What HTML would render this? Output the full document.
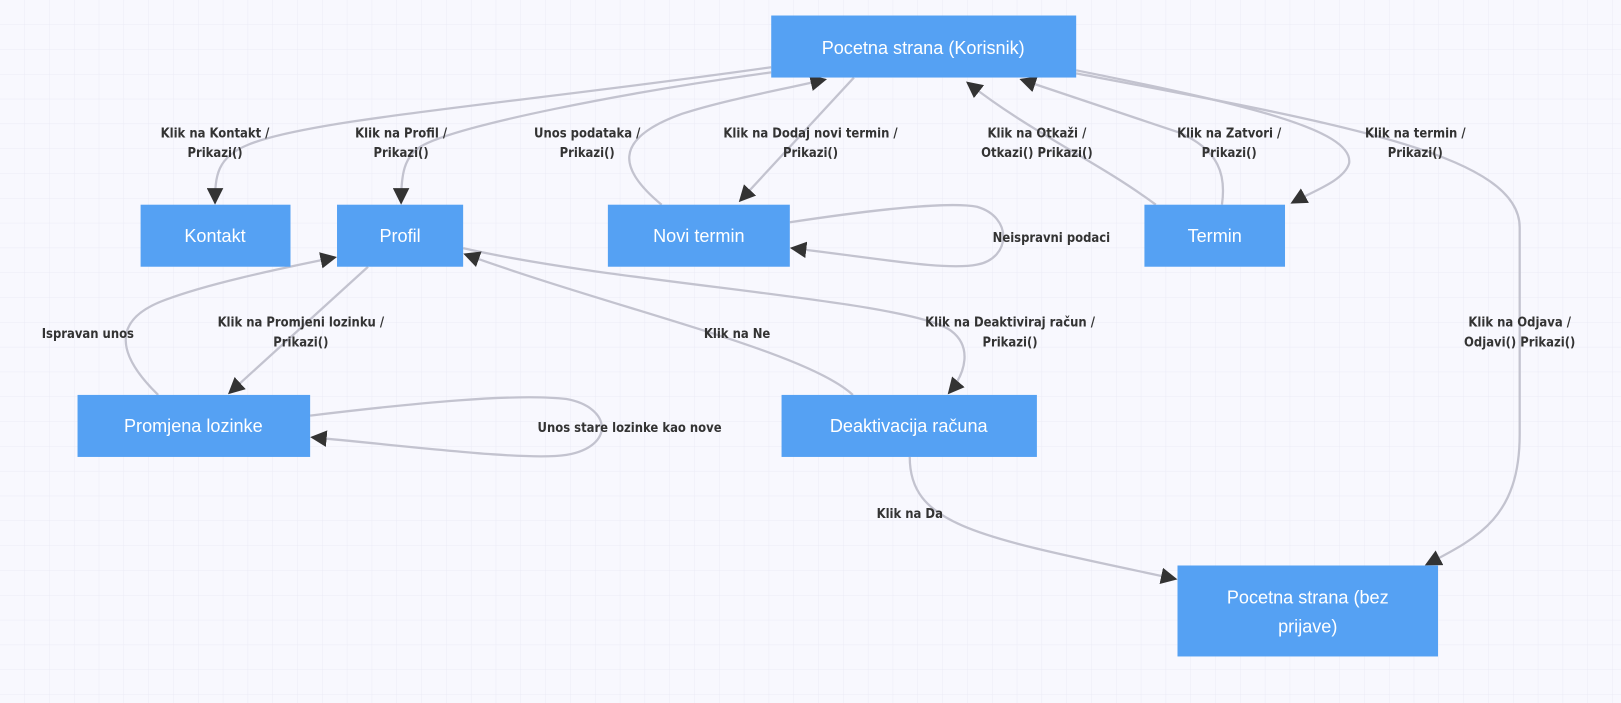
<!DOCTYPE html>
<html><head><meta charset="utf-8"><style>
html,body{margin:0;padding:0;width:1621px;height:703px;overflow:hidden;background:#f8f8fe;}
svg{display:block}
.n{fill:#55a1f3}
.t{fill:#fff;font-family:"Liberation Sans",sans-serif;font-size:17.5px;font-weight:500;text-anchor:middle}
.l{fill:#333;font-family:"DejaVu Sans Condensed","Liberation Sans",sans-serif;font-size:12.5px;font-weight:bold;text-anchor:middle}
.e{fill:none;stroke:#c3c3cf;stroke-width:2.2}
</style></head><body>
<svg width="1621" height="703" viewBox="0 0 1568 680" xmlns="http://www.w3.org/2000/svg">
<defs>
<pattern id="g" width="24" height="24" patternUnits="userSpaceOnUse">
<path d="M24 0V24M0 24H24" stroke="#ebebf6" stroke-width="1" fill="none"/>
</pattern>
<marker id="a" markerWidth="16" markerHeight="16" refX="14" refY="8" orient="auto" markerUnits="userSpaceOnUse">
<path d="M0,0 L16,8 L0,16 z" fill="#333"/>
</marker>
</defs>
<rect width="1568" height="680" fill="url(#g)"/>

<g class="e">
<path d="M746,65 C500,100 300,115 240,140 C210,152 208,170 208,196" marker-end="url(#a)"/>
<path d="M746,70 C600,90 450,120 410,140 C390,150 388,170 388,196" marker-end="url(#a)"/>
<path d="M640,198 C600,165 590,135 660,110 C700,97 750,88 798,77" marker-end="url(#a)"/>
<path d="M826,75 L716,194" marker-end="url(#a)"/>
<path d="M1118,198 C1060,155 1000,130 936,80" marker-end="url(#a)"/>
<path d="M1182,198 C1186,170 1180,145 1140,128 L988,77" marker-end="url(#a)"/>
<path d="M1041,68 C1200,100 1310,125 1305,158 C1300,175 1270,185 1250,196" marker-end="url(#a)"/>
<path d="M1041,71 C1300,120 1470,150 1470,220 L1470,420 C1470,500 1430,520 1380,546" marker-end="url(#a)"/>
<path d="M764,215 C850,202 920,195 945,200 C980,210 978,250 945,256 C915,262 850,250 766,240" marker-end="url(#a)"/>
<path d="M356,258 L222,380" marker-end="url(#a)"/>
<path d="M153,382 C115,345 105,310 160,290 C200,275 260,262 324,249" marker-end="url(#a)"/>
<path d="M448,240 C600,275 880,290 920,320 C940,335 935,360 918,380" marker-end="url(#a)"/>
<path d="M825,382 C780,340 600,300 450,246" marker-end="url(#a)"/>
<path d="M300,402 C400,390 500,380 548,386 C592,394 595,432 548,440 C510,446 400,432 302,423" marker-end="url(#a)"/>
<path d="M880,442 C880,510 950,520 1137,560" marker-end="url(#a)"/>
</g>

<rect class="n" x="746" y="15" width="295" height="60"/><text class="t" x="893" y="52">Pocetna strana (Korisnik)</text>
<rect class="n" x="136" y="198" width="145" height="60"/><text class="t" x="208" y="234">Kontakt</text>
<rect class="n" x="326" y="198" width="122" height="60"/><text class="t" x="387" y="234">Profil</text>
<rect class="n" x="588" y="198" width="176" height="60"/><text class="t" x="676" y="234">Novi termin</text>
<rect class="n" x="1107" y="198" width="136" height="60"/><text class="t" x="1175" y="234">Termin</text>
<rect class="n" x="75" y="382" width="225" height="60"/><text class="t" x="187" y="418">Promjena lozinke</text>
<rect class="n" x="756" y="382" width="247" height="60"/><text class="t" x="879" y="418">Deaktivacija računa</text>
<rect class="n" x="1139" y="547" width="252" height="88"/><text class="t" x="1265" y="584">Pocetna strana (bez</text><text class="t" x="1265" y="612">prijave)</text>

<g class="l">
<text x="208" y="133">Klik na Kontakt /</text><text x="208" y="152">Prikazi()</text>
<text x="388" y="133">Klik na Profil /</text><text x="388" y="152">Prikazi()</text>
<text x="568" y="133">Unos podataka /</text><text x="568" y="152">Prikazi()</text>
<text x="784" y="133">Klik na Dodaj novi termin /</text><text x="784" y="152">Prikazi()</text>
<text x="1003" y="133">Klik na Otkaži /</text><text x="1003" y="152">Otkazi() Prikazi()</text>
<text x="1189" y="133">Klik na Zatvori /</text><text x="1189" y="152">Prikazi()</text>
<text x="1369" y="133">Klik na termin /</text><text x="1369" y="152">Prikazi()</text>
<text x="1017" y="234">Neispravni podaci</text>
<text x="85" y="327">Ispravan unos</text>
<text x="291" y="316">Klik na Promjeni lozinku /</text><text x="291" y="335">Prikazi()</text>
<text x="713" y="327">Klik na Ne</text>
<text x="977" y="316">Klik na Deaktiviraj račun /</text><text x="977" y="335">Prikazi()</text>
<text x="1470" y="316">Klik na Odjava /</text><text x="1470" y="335">Odjavi() Prikazi()</text>
<text x="609" y="418">Unos stare lozinke kao nove</text>
<text x="880" y="501">Klik na Da</text>
</g>
</svg>
</body></html>
